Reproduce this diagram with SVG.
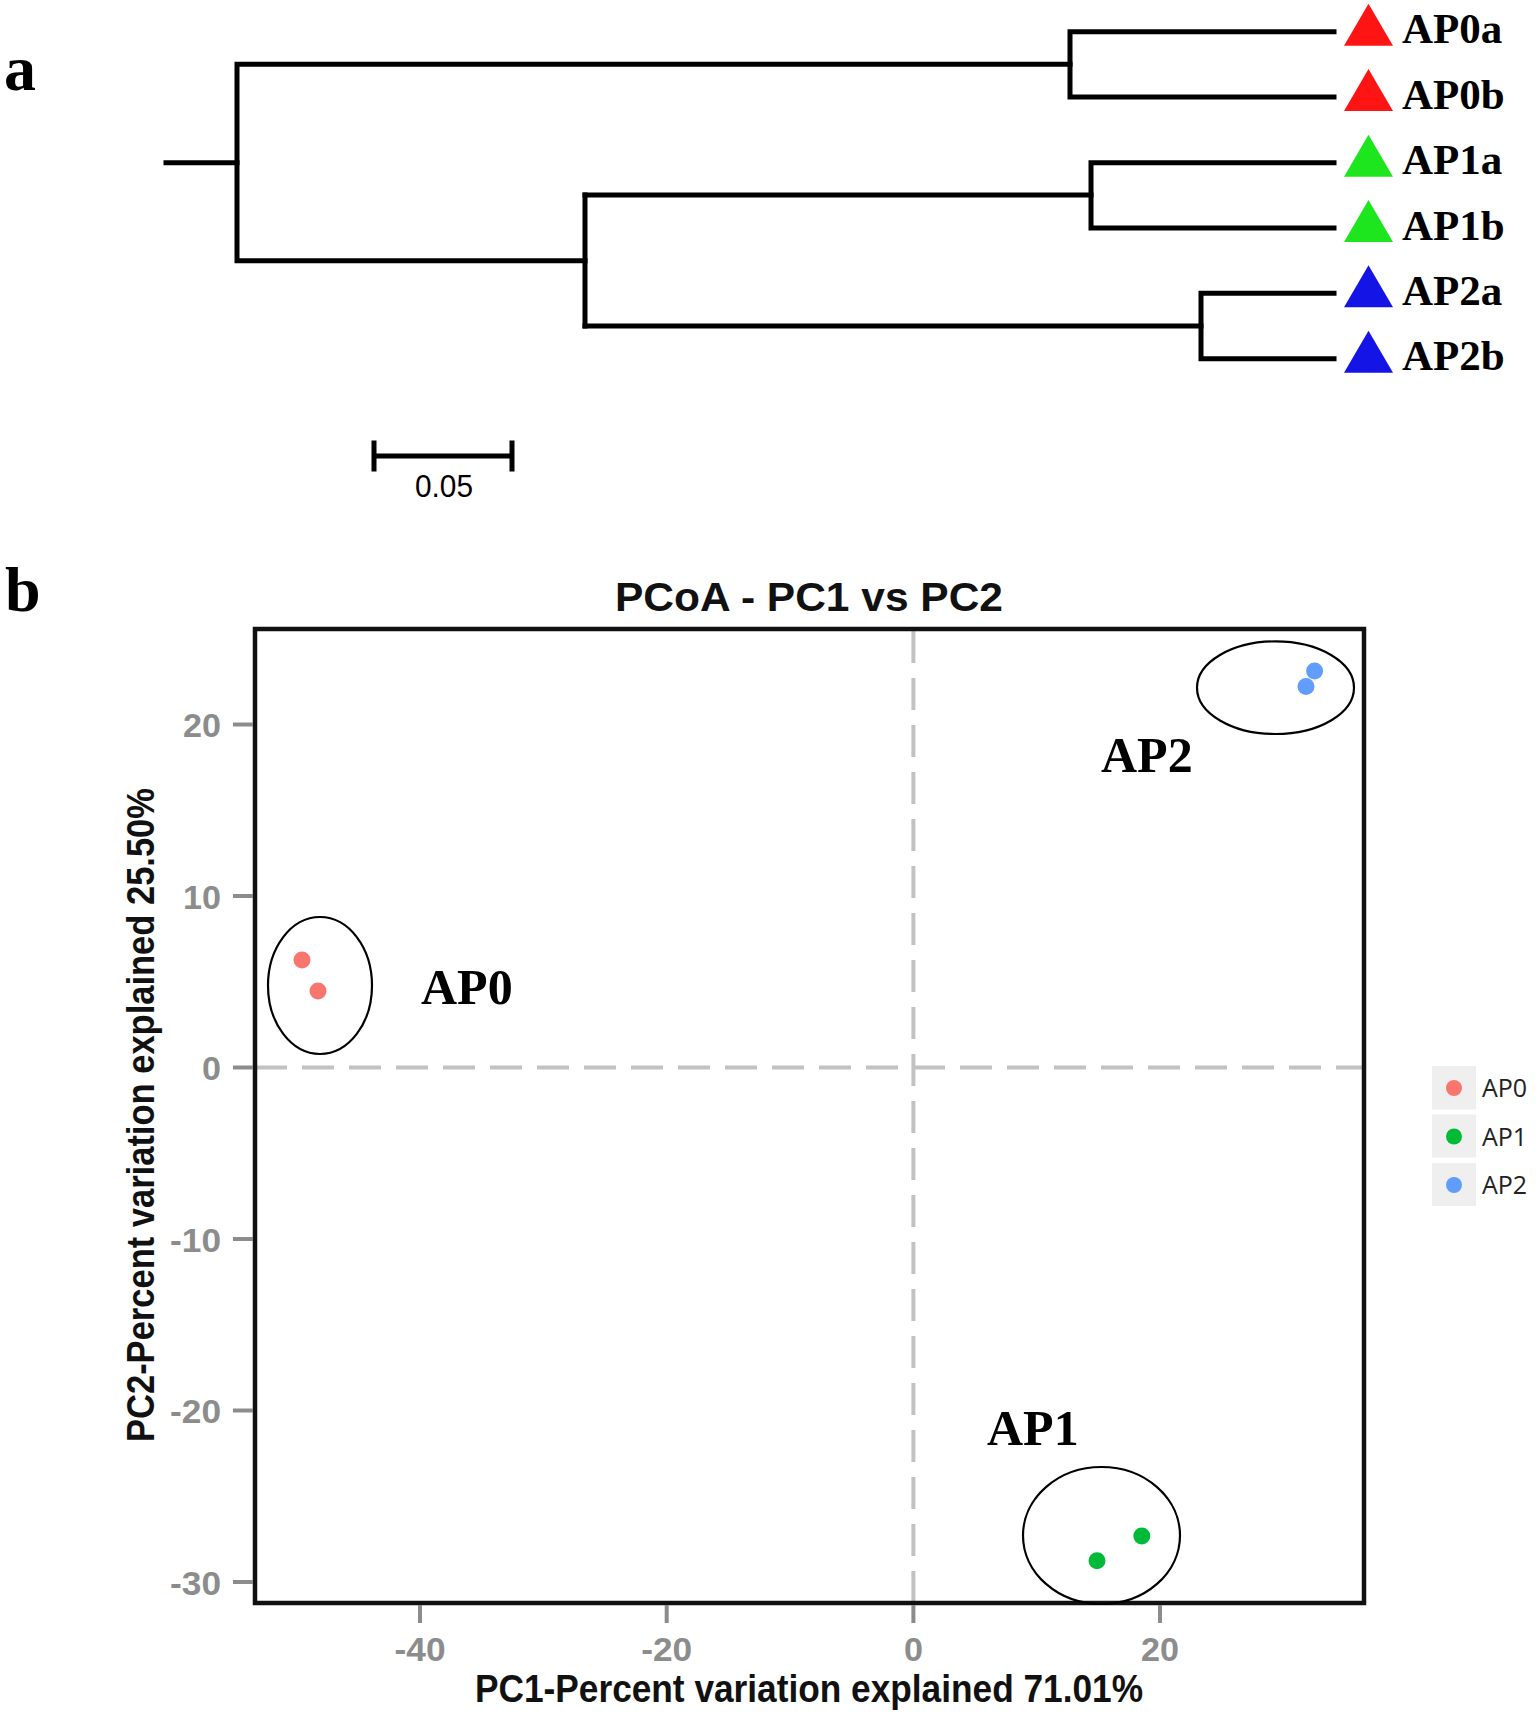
<svg xmlns="http://www.w3.org/2000/svg" width="1536" height="1715" viewBox="0 0 1536 1715">
<style>
.br{fill:none;stroke:#000;stroke-width:5;stroke-linejoin:miter;stroke-linecap:square}
.lbl{font-family:"Liberation Serif","Times New Roman",serif;font-weight:bold;fill:#000}
.panel{font-family:"Liberation Serif","Times New Roman",serif;font-weight:bold;font-size:64px;fill:#000}
.tick{stroke:#8c8c8c;stroke-width:4}
.tl{font-family:"Liberation Sans",Arial,sans-serif;font-weight:bold;font-size:34px;fill:#8c8c8c}
.ax{font-family:"Liberation Sans",Arial,sans-serif;font-weight:bold;font-size:38px;fill:#111}
.dash{stroke:#c2c2c2;stroke-width:4;stroke-dasharray:32 15;fill:none}
.ell{fill:none;stroke:#000;stroke-width:2.2}
.grp{font-family:"Liberation Serif","Times New Roman",serif;font-weight:bold;font-size:50px;fill:#000}
.leg{font-family:"Open Sans","Liberation Sans",sans-serif;font-size:25px;fill:#222}
.lbox{fill:#efefef}
</style>
<rect width="1536" height="1715" fill="#fff"/>
<text class="panel" x="4" y="90">a</text>
<g id="tree">
<path class="br" d="M166 162.7 H237"/>
<path class="br" d="M1070 64.3 H237 V260.7 H585"/>
<path class="br" d="M1334 31.7 H1070 V97 H1334"/>
<path class="br" d="M585 195 V326"/>
<path class="br" d="M585 195 H1091"/>
<path class="br" d="M1334 162.7 H1091 V228 H1334"/>
<path class="br" d="M585 326 H1201"/>
<path class="br" d="M1334 293.3 H1201 V358.7 H1334"/>
</g>
<g id="leaf-AP0a"><polygon points="1368.5,3.7 1344,45.7 1393,45.7" fill="#ff1414"/><text class="lbl" x="1402" y="43.3" font-size="43">AP0a</text></g>
<g id="leaf-AP0b"><polygon points="1368.5,69 1344,111 1393,111" fill="#ff1414"/><text class="lbl" x="1402" y="108.6" font-size="43">AP0b</text></g>
<g id="leaf-AP1a"><polygon points="1368.5,134.7 1344,176.7 1393,176.7" fill="#1ee61e"/><text class="lbl" x="1402" y="174.3" font-size="43">AP1a</text></g>
<g id="leaf-AP1b"><polygon points="1368.5,200 1344,242 1393,242" fill="#1ee61e"/><text class="lbl" x="1402" y="239.6" font-size="43">AP1b</text></g>
<g id="leaf-AP2a"><polygon points="1368.5,265.3 1344,307.3 1393,307.3" fill="#1414e6"/><text class="lbl" x="1402" y="304.9" font-size="43">AP2a</text></g>
<g id="leaf-AP2b"><polygon points="1368.5,330.7 1344,372.7 1393,372.7" fill="#1414e6"/><text class="lbl" x="1402" y="370.3" font-size="43">AP2b</text></g>
<g id="scalebar">
<path class="br" d="M374 456 H512 M374 443 V469 M512 443 V469" stroke-linecap="butt"/>
<text x="444" y="497" text-anchor="middle" font-family="Liberation Sans, Arial, sans-serif" font-size="32" fill="#000" textLength="58" lengthAdjust="spacingAndGlyphs">0.05</text>
</g>
<text class="panel" x="5" y="611">b</text>
<text x="809" y="611" text-anchor="middle" font-family="Liberation Sans, Arial, sans-serif" font-weight="bold" font-size="41" fill="#111" textLength="388" lengthAdjust="spacingAndGlyphs">PCoA - PC1 vs PC2</text>
<g id="axes">
<line class="dash" x1="255" y1="1067.5" x2="1364" y2="1067.5"/>
<line class="dash" x1="913.4" y1="1603" x2="913.4" y2="629"/>
<rect x="255" y="629" width="1109" height="974" fill="none" stroke="#111" stroke-width="4.5"/>
<line class="tick" x1="233" y1="724.5" x2="253" y2="724.5"/>
<line class="tick" x1="233" y1="896" x2="253" y2="896"/>
<line class="tick" x1="233" y1="1067.5" x2="253" y2="1067.5"/>
<line class="tick" x1="233" y1="1239" x2="253" y2="1239"/>
<line class="tick" x1="233" y1="1410.5" x2="253" y2="1410.5"/>
<line class="tick" x1="233" y1="1582" x2="253" y2="1582"/>
<text class="tl" x="221" y="737" text-anchor="end" textLength="38" lengthAdjust="spacingAndGlyphs">20</text>
<text class="tl" x="221" y="908.5" text-anchor="end" textLength="38" lengthAdjust="spacingAndGlyphs">10</text>
<text class="tl" x="221" y="1080" text-anchor="end" textLength="19" lengthAdjust="spacingAndGlyphs">0</text>
<text class="tl" x="221" y="1251.5" text-anchor="end" textLength="51" lengthAdjust="spacingAndGlyphs">-10</text>
<text class="tl" x="221" y="1423" text-anchor="end" textLength="51" lengthAdjust="spacingAndGlyphs">-20</text>
<text class="tl" x="221" y="1594.5" text-anchor="end" textLength="51" lengthAdjust="spacingAndGlyphs">-30</text>
<line class="tick" x1="420" y1="1605" x2="420" y2="1623"/>
<line class="tick" x1="666.7" y1="1605" x2="666.7" y2="1623"/>
<line class="tick" x1="913.4" y1="1605" x2="913.4" y2="1623"/>
<line class="tick" x1="1160" y1="1605" x2="1160" y2="1623"/>
<text class="tl" x="420" y="1661" text-anchor="middle" textLength="51" lengthAdjust="spacingAndGlyphs">-40</text>
<text class="tl" x="666.7" y="1661" text-anchor="middle" textLength="51" lengthAdjust="spacingAndGlyphs">-20</text>
<text class="tl" x="913.4" y="1661" text-anchor="middle" textLength="19" lengthAdjust="spacingAndGlyphs">0</text>
<text class="tl" x="1160" y="1661" text-anchor="middle" textLength="38" lengthAdjust="spacingAndGlyphs">20</text>
<text class="ax" x="809" y="1702" text-anchor="middle" textLength="668" lengthAdjust="spacingAndGlyphs">PC1-Percent variation explained 71.01%</text>
<text class="ax" transform="translate(154 1115) rotate(-90)" x="0" y="0" text-anchor="middle" textLength="654" lengthAdjust="spacingAndGlyphs">PC2-Percent variation explained 25.50%</text>
</g>
<g id="cluster-AP0">
<circle cx="302" cy="960" r="8.5" fill="#f8766d"/>
<circle cx="318" cy="991" r="8.5" fill="#f8766d"/>
<ellipse class="ell" cx="320" cy="985.5" rx="52" ry="68.5"/>
<text class="grp" x="421" y="1004">AP0</text>
</g>
<g id="cluster-AP2">
<circle cx="1314.6" cy="671" r="8.5" fill="#619cff"/>
<circle cx="1306" cy="686.6" r="8.5" fill="#619cff"/>
<ellipse class="ell" cx="1275.5" cy="687.7" rx="78.5" ry="46.3"/>
<text class="grp" x="1101" y="772">AP2</text>
</g>
<g id="cluster-AP1">
<circle cx="1097" cy="1560.8" r="8.5" fill="#00ba38"/>
<circle cx="1141.8" cy="1536" r="8.5" fill="#00ba38"/>
<ellipse class="ell" cx="1101.5" cy="1535.5" rx="78.5" ry="68.5"/>
<text class="grp" x="987" y="1445">AP1</text>
</g>
<g id="legend">
<rect class="lbox" x="1432" y="1066" width="44" height="43.5"/>
<rect class="lbox" x="1432" y="1114.5" width="44" height="43"/>
<rect class="lbox" x="1432" y="1163" width="44" height="43"/>
<circle cx="1454" cy="1088" r="8" fill="#f8766d"/>
<circle cx="1454" cy="1136.5" r="8" fill="#00ba38"/>
<circle cx="1454" cy="1185" r="8" fill="#619cff"/>
<text class="leg" x="1482" y="1097">AP0</text>
<text class="leg" x="1482" y="1145.5">AP1</text>
<text class="leg" x="1482" y="1194">AP2</text>
</g>
</svg>
